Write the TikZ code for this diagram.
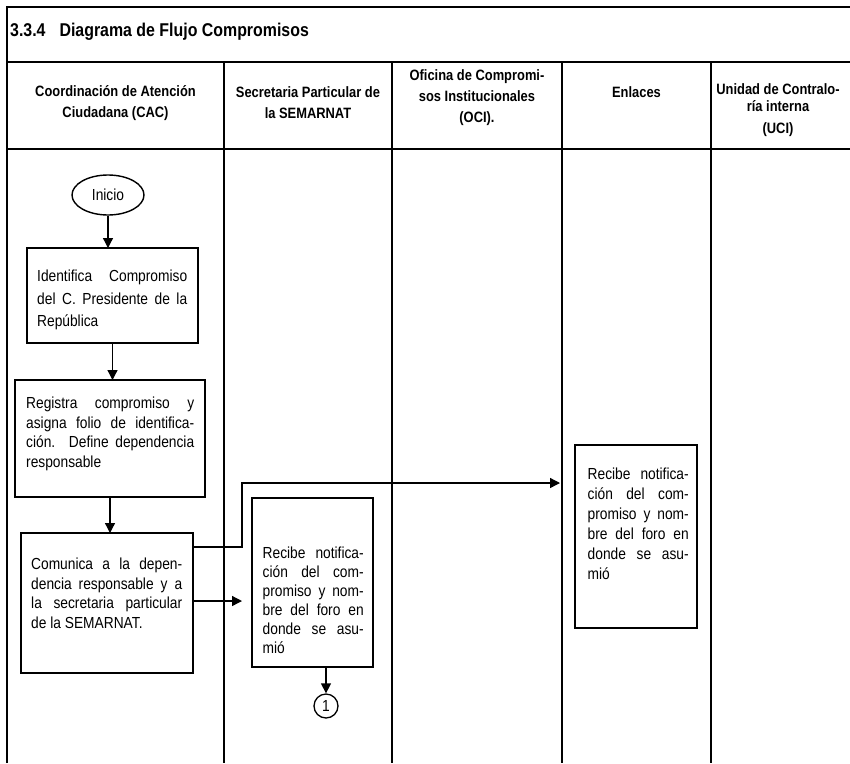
\documentclass[tikz,border=0pt]{standalone}
\usepackage{fontspec}
\setmainfont[FakeStretch=0.86]{Liberation Sans}
\usetikzlibrary{arrows.meta,shapes.geometric,calc}

\begin{document}
\begin{tikzpicture}[x=1pt,y=-1pt,
  rule/.style={line width=1.4pt},
  head/.style={align=center,inner sep=0pt,font=\fontsize{15}{21}\selectfont\bfseries},
  procbox/.style={draw,line width=1.5pt,inner sep=0pt,outer sep=0pt},
  boxtext/.style={anchor=north west,inner sep=0pt,align=justify,font=\fontsize{16}{19.5}\selectfont},
  flow/.style={line width=1.3pt,-{Triangle[length=10pt,width=10pt]}}
]
\useasboundingbox (0,0) rectangle (850,763);
\fill[white] (0,0) rectangle (850,763);

% frame, title band and swimlanes
\draw[rule] (7,763) -- (7,7) -- (850,7);
\draw[rule] (7,62) -- (850,62);
\draw[rule] (7,149) -- (850,149);
\foreach \x in {224,392,562,711} \draw[rule] (\x,62) -- (\x,763);

\node[anchor=west,inner sep=0pt,font=\fontsize{18.5}{21}\selectfont\bfseries] (title) at (10,32)
  {3.3.4\hspace{14pt}Diagrama de Flujo Compromisos};

% lane headings
\node[head] (hcac) at (115.5,103) {Coordinación de Atención\\Ciudadana (CAC)};
\node[head] (hsec) at (308,103) {Secretaria Particular de\\la SEMARNAT};
\node[head] (hoci) at (477,98) {Oficina de Compromi-\\sos Institucionales\\(OCI).};
\node[head] (henl) at (636.5,92) {Enlaces};
\node[head,font=\fontsize{15}{17}\selectfont\bfseries] (huci) at (778,110) {Unidad de Contralo-\\ría interna\\[5pt](UCI)};

% CAC lane
\node[draw,ellipse,line width=1.4pt,minimum width=72pt,minimum height=40pt,inner sep=0pt,
      font=\fontsize{16}{18}\selectfont] (ini) at (108,195) {Inicio};

\node[procbox,minimum width=171pt,minimum height=95pt] (box1) at (112.5,295.5) {};
\node[boxtext,text width=150pt,font=\fontsize{16}{22.5}\selectfont] (box1t) at (37,270)
  {Identifica Compromiso\linebreak del C. Presidente de la\linebreak República};

\node[procbox,minimum width=190pt,minimum height=117pt] (box2) at (110,438.5) {};
\node[boxtext,text width=168pt] (box2t) at (26,397)
  {Registra compromiso y\linebreak asigna folio de identifica-\linebreak ción. Define dependencia\linebreak responsable};

\node[procbox,minimum width=172pt,minimum height=140pt] (box3) at (107,603) {};
\node[boxtext,text width=151pt] (box3t) at (31,558)
  {Comunica a la depen-\linebreak dencia responsable y a\linebreak la secretaria particular\linebreak de la SEMARNAT.};

% Secretaria lane
\node[procbox,minimum width=121pt,minimum height=169pt] (sec) at (312.5,582.5) {};
\node[boxtext,text width=101pt,font=\fontsize{16}{19}\selectfont] (sect) at (262.5,547)
  {Recibe notifica-\linebreak ción del com-\linebreak promiso y nom-\linebreak bre del foro en\linebreak donde se asu-\linebreak mió};

\node[draw,circle,line width=1.3pt,minimum size=24pt,inner sep=0pt,
      font=\fontsize{16}{16}\selectfont] (c1) at (326,706) {1};

% Enlaces lane
\node[procbox,minimum width=122pt,minimum height=183pt] (enl) at (636,536.5) {};
\node[boxtext,text width=101pt,font=\fontsize{16}{20}\selectfont] (enlt) at (587.5,468)
  {Recibe notifica-\linebreak ción del com-\linebreak promiso y nom-\linebreak bre del foro en\linebreak donde se asu-\linebreak mió};

% connectors
\draw[flow] (ini.south) -- (ini.south |- box1.north);
\draw[flow] (box1.south) -- (box1.south |- box2.north);
\draw[flow] (box2.south) -- (box2.south |- box3.north);

\coordinate (j1) at (242,547);
\coordinate (j2) at (242,483);
\draw[flow,shorten >=15pt] (box3.east |- j1) -- (j1) -- (j2) -- (j2 -| enl.west);
\draw[flow,shorten >=10pt] (box3.east |- 0,601) -- (sec.west |- 0,601);
\draw[flow] (c1.north |- sec.south) -- (c1.north);
\end{tikzpicture}
\end{document}
